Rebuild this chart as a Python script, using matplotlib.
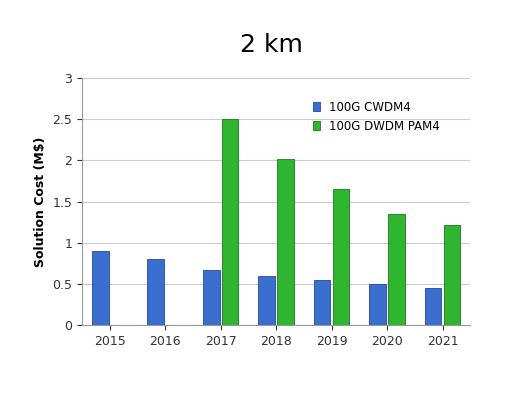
import matplotlib.pyplot as plt
import numpy as np

years = ['2015', '2016', '2017', '2018', '2019', '2020', '2021']
cwdm4 = [0.90, 0.80, 0.67, 0.60, 0.55, 0.50, 0.45]
pam4 = [0, 0, 2.50, 2.02, 1.65, 1.35, 1.22]

fig = plt.figure(figsize=(5.32, 4.13), dpi=100)
ax = fig.add_axes([0.154, 0.213, 0.73, 0.598])

x = np.arange(len(years))
w = 0.3
ax.bar(x - w / 2 - 0.02, cwdm4, w, color='#3a6fd0', edgecolor='#1f4a9a', linewidth=0.6,
       label='100G CWDM4', zorder=3)
ax.bar(x + w / 2 + 0.02, pam4, w, color='#2fb52f', edgecolor='#1a7a1a', linewidth=0.6,
       label='100G DWDM PAM4', zorder=3)

ax.set_xlim(-0.5, len(years) - 0.5)
ax.set_ylim(0, 3)
ax.set_yticks([0, 0.5, 1, 1.5, 2, 2.5, 3])
ax.set_yticklabels(['0', '0.5', '1', '1.5', '2', '2.5', '3'])
ax.set_xticks(x)
ax.set_xticklabels(years)
ax.tick_params(labelsize=9, colors='#333333')
ax.grid(axis='y', color='#cccccc', linewidth=0.8, zorder=0)
for s in ['top', 'right']:
    ax.spines[s].set_visible(False)
ax.spines['left'].set_color('#999999')
ax.spines['bottom'].set_color('#999999')
ax.set_ylabel('Solution Cost (M$)', fontsize=9, fontweight='bold')
fig.text(0.51, 0.875, '2 km', ha='center', fontsize=18)
ax.legend(loc='upper right', bbox_to_anchor=(0.95, 0.95), frameon=False, fontsize=8.5,
          handlelength=0.6, handleheight=0.8)

fig.savefig('out.png')
